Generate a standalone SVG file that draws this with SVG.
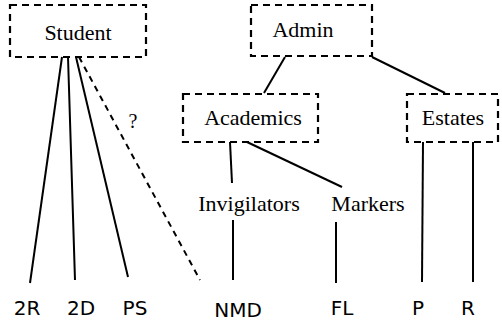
<svg xmlns="http://www.w3.org/2000/svg" width="502" height="325" viewBox="0 0 502 325">
<style>
.box{fill:none;stroke:#000;stroke-width:2.2;stroke-dasharray:7,5}
.ln{stroke:#000;stroke-width:2;fill:none}
.dl{stroke:#000;stroke-width:2;fill:none;stroke-dasharray:6,5}
.serif{font-family:"Liberation Serif","DejaVu Serif",serif;font-size:22px;text-anchor:middle}
.sans{font-family:"DejaVu Sans","Liberation Sans",sans-serif;font-size:20px;text-anchor:middle}
</style>
<rect width="502" height="325" fill="#fff"/>
<g id="connectors">
<line class="ln" x1="62" y1="57" x2="30" y2="283"/>
<line class="ln" x1="68" y1="57" x2="75" y2="280"/>
<line class="ln" x1="76" y1="57" x2="128" y2="277"/>
<line class="dl" x1="79" y1="57" x2="200" y2="280"/>
<line class="ln" x1="285" y1="57" x2="264" y2="93"/>
<line class="ln" x1="372" y1="57" x2="445" y2="93"/>
<line class="ln" x1="230" y1="142" x2="232" y2="183"/>
<line class="ln" x1="247" y1="142" x2="342" y2="187"/>
<line class="ln" x1="233" y1="220" x2="233" y2="280"/>
<line class="ln" x1="336" y1="222" x2="336" y2="283"/>
<line class="ln" x1="423" y1="142" x2="422" y2="282"/>
<line class="ln" x1="473" y1="142" x2="473" y2="282"/>
<text class="serif" x="133" y="128" style="font-size:20px">?</text>
</g>
<g id="student"><rect class="box" x="10" y="5" width="136" height="52"/><text class="serif" x="78" y="40">Student</text></g>
<g id="admin"><rect class="box" x="251" y="5" width="121" height="51"/><text class="serif" x="303" y="37">Admin</text></g>
<g id="academics"><rect class="box" x="183" y="94" width="135" height="48"/><text class="serif" x="253" y="125">Academics</text></g>
<g id="estates"><rect class="box" x="407" y="94" width="91" height="48"/><text class="serif" x="453" y="125">Estates</text></g>
<g id="invigilators"><text class="serif" x="249" y="211">Invigilators</text></g>
<g id="markers"><text class="serif" x="368" y="211">Markers</text></g>
<g id="n2r"><text class="sans" x="27" y="315">2R</text></g>
<g id="n2d"><text class="sans" x="81" y="315">2D</text></g>
<g id="nps"><text class="sans" x="135" y="315">PS</text></g>
<g id="nnmd"><text class="sans" x="238" y="317">NMD</text></g>
<g id="nfl"><text class="sans" x="342" y="315">FL</text></g>
<g id="np"><text class="sans" x="418" y="315">P</text></g>
<g id="nr"><text class="sans" x="468" y="315">R</text></g>
</svg>
